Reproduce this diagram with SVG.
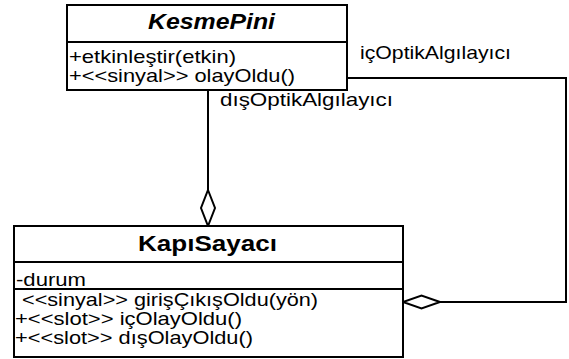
<svg xmlns="http://www.w3.org/2000/svg" width="569" height="359" viewBox="0 0 569 359">
<style>
.box{fill:#fff;stroke:#000;stroke-width:2}
.sep{stroke:#000;stroke-width:2}
.t{font-family:"Liberation Sans",Arial,sans-serif;font-size:19px;fill:#000}
.title{font-family:"Liberation Sans",Arial,sans-serif;font-size:22px;font-weight:bold;fill:#000}
.conn{fill:none;stroke:#000;stroke-width:2}
.dia{fill:#fff;stroke:#000;stroke-width:2}
</style>
<rect width="569" height="359" fill="#fff"/>
<g id="connectors">
<polyline class="conn" points="208,90 208,190"/>
<polygon class="dia" points="208,190 215,208 208,226 201,208"/>
<polyline class="conn" points="347,78 566,78 566,302 440,302"/>
<polygon class="dia" points="440,302 421.5,295.5 403,302 421.5,308.5"/>
<text class="t" x="360" y="59" textLength="151" lengthAdjust="spacingAndGlyphs">içOptikAlgılayıcı</text>
<text class="t" x="220" y="106" textLength="173" lengthAdjust="spacingAndGlyphs">dışOptikAlgılayıcı</text>
</g>
<g id="KesmePini">
<rect class="box" x="67" y="5" width="280" height="85"/>
<line class="sep" x1="67" y1="42" x2="347" y2="42"/>
<text class="title" x="148" y="29" font-style="italic" textLength="127" lengthAdjust="spacingAndGlyphs">KesmePini</text>
<text class="t" x="69" y="63" textLength="167" lengthAdjust="spacingAndGlyphs">+etkinleştir(etkin)</text>
<text class="t" x="69" y="82" textLength="226" lengthAdjust="spacingAndGlyphs">+&lt;&lt;sinyal&gt;&gt; olayOldu()</text>
</g>
<g id="KapiSayaci">
<rect class="box" x="14" y="226" width="389" height="131"/>
<line class="sep" x1="14" y1="262" x2="403" y2="262"/>
<line class="sep" x1="14" y1="289" x2="403" y2="289"/>
<text class="title" x="138" y="251" textLength="139" lengthAdjust="spacingAndGlyphs">KapıSayacı</text>
<text class="t" x="16" y="286" textLength="70" lengthAdjust="spacingAndGlyphs">-durum</text>
<text class="t" x="16" y="305.5" xml:space="preserve" textLength="302" lengthAdjust="spacingAndGlyphs"> &lt;&lt;sinyal&gt;&gt; girişÇıkışOldu(yön)</text>
<text class="t" x="15" y="325" textLength="227" lengthAdjust="spacingAndGlyphs">+&lt;&lt;slot&gt;&gt; içOlayOldu()</text>
<text class="t" x="15" y="344" textLength="238" lengthAdjust="spacingAndGlyphs">+&lt;&lt;slot&gt;&gt; dışOlayOldu()</text>
</g>
</svg>
